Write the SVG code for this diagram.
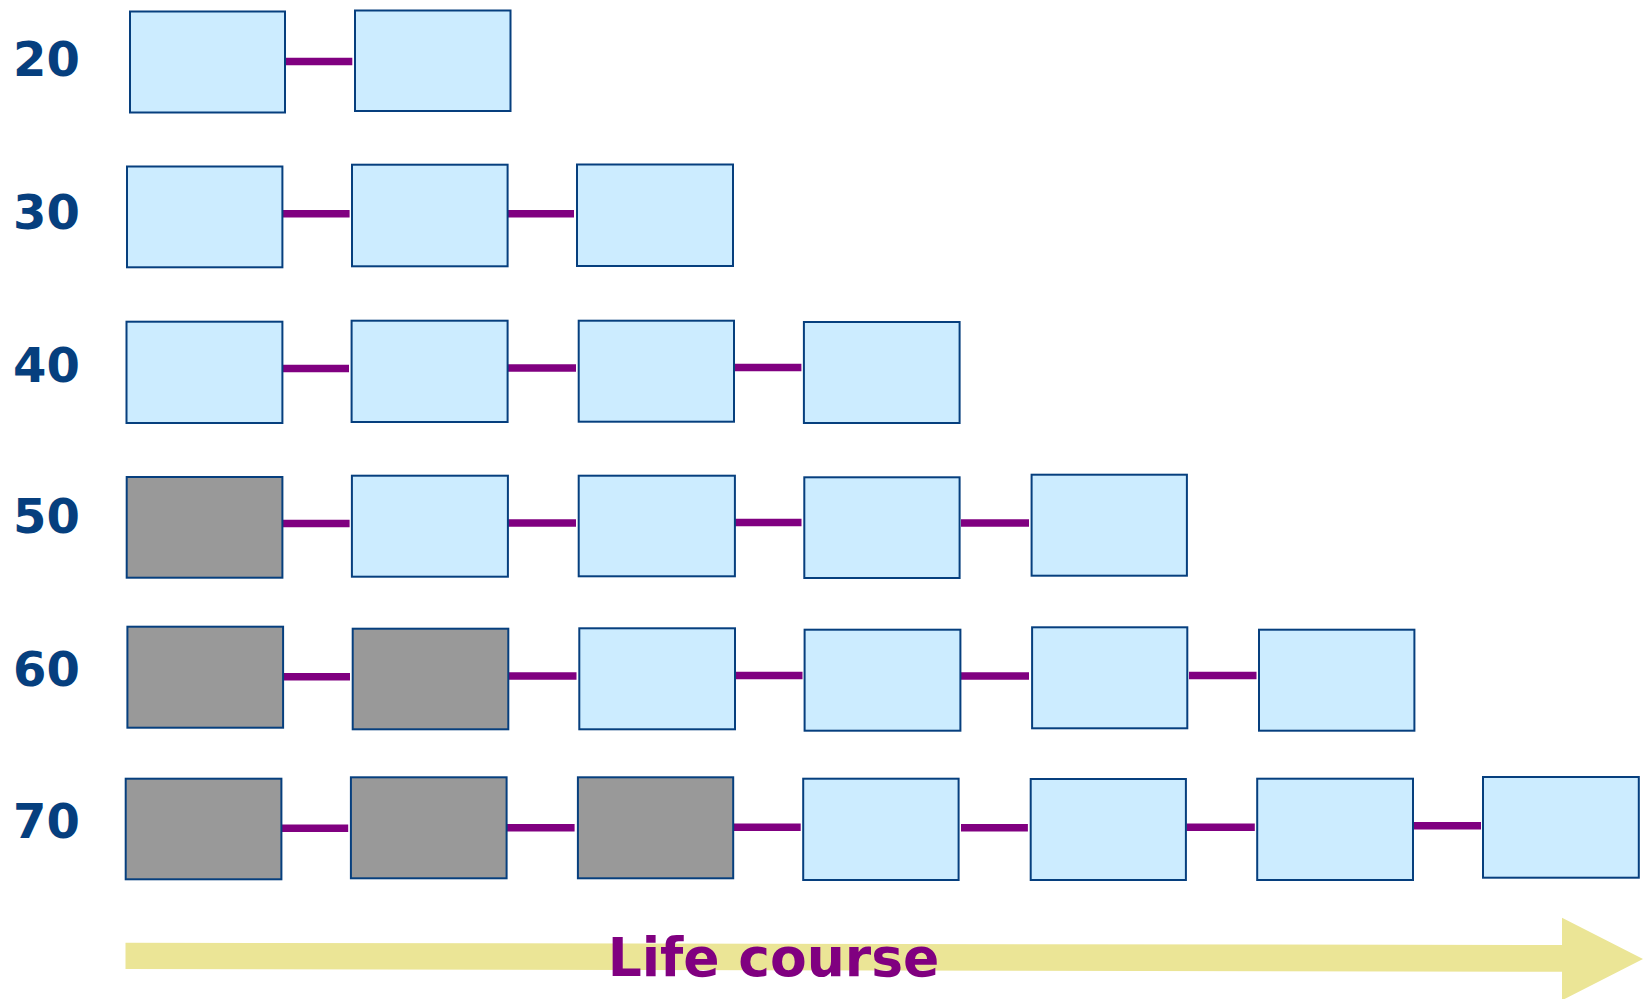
<svg xmlns="http://www.w3.org/2000/svg" width="1643" height="999" viewBox="0 0 1643 999">
<style>
.b{fill:#CCECFF;stroke:#063F7E;stroke-width:2}
.g{fill:#999999;stroke:#063F7E;stroke-width:2}
.c{stroke:#800080;stroke-width:7.5;fill:none}
.lbl{font-family:"DejaVu Sans",Verdana,sans-serif;font-weight:bold;font-size:48px;fill:#063F7E;text-anchor:middle}
.lc{font-family:"DejaVu Sans",Verdana,sans-serif;font-weight:bold;font-size:53.5px;fill:#800080;text-anchor:middle}
</style>
<rect width="1643" height="999" fill="#ffffff"/>
<g id="arrow">
<polygon points="125.5,942.7 1562,945 1562,917.7 1643,959 1562,1000.3 1562,971.7 125.5,969" fill="#EBE596"/>
</g>
<g id="labels">
<text class="lbl" x="46.5" y="76">20</text>
<text class="lbl" x="46.5" y="229">30</text>
<text class="lbl" x="46.5" y="381.5">40</text>
<text class="lbl" x="46.5" y="533">50</text>
<text class="lbl" x="46.5" y="685.5">60</text>
<text class="lbl" x="46.5" y="838">70</text>
</g>
<g id="connectors">
<line class="c" x1="285" y1="61.5" x2="352.3" y2="61.5"/>
<line class="c" x1="282.4" y1="213.7" x2="349.6" y2="213.7"/>
<line class="c" x1="507.6" y1="213.7" x2="574" y2="213.7"/>
<line class="c" x1="282.4" y1="368.5" x2="349" y2="368.5"/>
<line class="c" x1="507.6" y1="368" x2="576" y2="368"/>
<line class="c" x1="734" y1="367.5" x2="801.4" y2="367.5"/>
<line class="c" x1="282.4" y1="523.5" x2="349.6" y2="523.5"/>
<line class="c" x1="507.9" y1="523" x2="576" y2="523"/>
<line class="c" x1="734.9" y1="522.5" x2="801.5" y2="522.5"/>
<line class="c" x1="961" y1="523" x2="1029" y2="523"/>
<line class="c" x1="283.1" y1="676.7" x2="350" y2="676.7"/>
<line class="c" x1="508.3" y1="676" x2="576.5" y2="676"/>
<line class="c" x1="735" y1="675.5" x2="802.5" y2="675.5"/>
<line class="c" x1="961" y1="676" x2="1029" y2="676"/>
<line class="c" x1="1189" y1="675.5" x2="1256.5" y2="675.5"/>
<line class="c" x1="281.4" y1="828.3" x2="348.2" y2="828.3"/>
<line class="c" x1="506.6" y1="827.7" x2="574.6" y2="827.7"/>
<line class="c" x1="733.2" y1="827.2" x2="800.7" y2="827.2"/>
<line class="c" x1="961" y1="827.7" x2="1027.9" y2="827.7"/>
<line class="c" x1="1186.5" y1="827.3" x2="1254.8" y2="827.3"/>
<line class="c" x1="1413.5" y1="825.7" x2="1481" y2="825.7"/>
</g>
<g id="row20">
<rect id="n20-1" class="b" x="130" y="11.5" width="155" height="101"/>
<rect id="n20-2" class="b" x="355" y="10.5" width="155.5" height="100.5"/>
</g>
<g id="row30">
<rect id="n30-1" class="b" x="127" y="166.5" width="155.4" height="100.8"/>
<rect id="n30-2" class="b" x="352" y="164.7" width="155.6" height="101.6"/>
<rect id="n30-3" class="b" x="577" y="164.5" width="156" height="101.5"/>
</g>
<g id="row40">
<rect id="n40-1" class="b" x="126.5" y="321.7" width="155.9" height="101.3"/>
<rect id="n40-2" class="b" x="351.6" y="320.7" width="156" height="101.3"/>
<rect id="n40-3" class="b" x="578.7" y="320.7" width="155.3" height="101"/>
<rect id="n40-4" class="b" x="803.9" y="322" width="155.7" height="101"/>
</g>
<g id="row50">
<rect id="n50-1" class="g" x="126.7" y="477" width="155.7" height="100.7"/>
<rect id="n50-2" class="b" x="351.9" y="475.7" width="156" height="101"/>
<rect id="n50-3" class="b" x="578.7" y="475.7" width="156.2" height="100.6"/>
<rect id="n50-4" class="b" x="804.3" y="477.3" width="155.3" height="100.7"/>
<rect id="n50-5" class="b" x="1031.6" y="474.7" width="155.3" height="101"/>
</g>
<g id="row60">
<rect id="n60-1" class="g" x="127.4" y="626.7" width="155.7" height="101"/>
<rect id="n60-2" class="g" x="352.7" y="628.7" width="155.6" height="100.6"/>
<rect id="n60-3" class="b" x="579.3" y="628.3" width="155.7" height="101"/>
<rect id="n60-4" class="b" x="804.6" y="629.7" width="155.8" height="101"/>
<rect id="n60-5" class="b" x="1032.1" y="627.3" width="155.2" height="101"/>
<rect id="n60-6" class="b" x="1259" y="629.7" width="155.4" height="101"/>
</g>
<g id="row70">
<rect id="n70-1" class="g" x="125.7" y="778.7" width="155.7" height="100.6"/>
<rect id="n70-2" class="g" x="350.9" y="777.3" width="155.7" height="101"/>
<rect id="n70-3" class="g" x="577.9" y="777.3" width="155.3" height="101"/>
<rect id="n70-4" class="b" x="803.2" y="778.7" width="155.4" height="101.3"/>
<rect id="n70-5" class="b" x="1030.7" y="779" width="155.2" height="101"/>
<rect id="n70-6" class="b" x="1257.2" y="778.7" width="155.8" height="101.3"/>
<rect id="n70-7" class="b" x="1483" y="777" width="155.8" height="100.7"/>
</g>
<g id="title">
<text class="lc" x="773.5" y="975.7">Life course</text>
</g>
</svg>
